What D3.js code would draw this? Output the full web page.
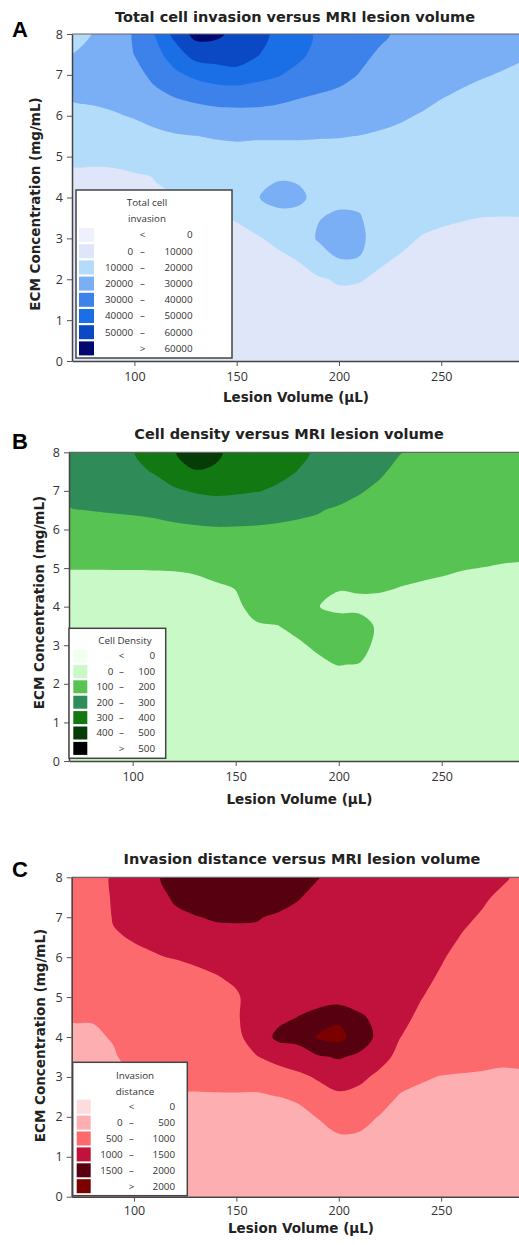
<!DOCTYPE html>
<html>
<head>
<meta charset="utf-8">
<script src="https://cdn.jsdelivr.net/npm/d3@7"></script>
<style>
  body { margin: 0; background: #fff; }
  svg { display: block; }
</style>
</head>
<body>
<svg id="fig" width="519" height="1245"></svg>
<script>
// sample grid
var lesionVolume = [70, 80, 90, 100, 110, 120, 130, 140, 150, 160, 170, 180, 190, 200, 210, 220, 230, 240, 250, 260, 270, 280, 290];
var ecmConcentration = [8, 7.5, 7, 6.5, 6, 5.5, 5, 4.5, 4, 3.5, 3, 2.5, 2, 1.5, 1, 0.5, 0];
var volumeTicks = [100, 150, 200, 250];
var ecmTicks = [0, 1, 2, 3, 4, 5, 6, 7, 8];

// A: total cell invasion (thousands); one column per lesion volume, ECM 8 -> 0
var totalInvasionK = [
  [17, 20.2, 22, 21, 17.9, 14.7, 10.4, 9.6, 8.9, 8.2, 7.4, 6.7, 5.9, 5.2, 4.5, 3.7, 3],
  [20.3, 22, 22.5, 21.7, 18.3, 15, 10.4, 9.6, 8.9, 8.2, 7.4, 6.7, 5.9, 5.2, 4.5, 3.7, 3],
  [24, 24, 23.5, 22.5, 19.3, 15.7, 10.5, 9.6, 8.9, 8.2, 7.4, 6.7, 5.9, 5.2, 4.5, 3.7, 3],
  [31, 30.2, 26.9, 23.8, 20.6, 16.9, 13.1, 9.2, 8.8, 8.2, 7.4, 6.7, 5.9, 5.2, 4.5, 3.7, 3],
  [40.4, 36.4, 32.4, 27.9, 22.6, 18.2, 14.4, 10.15, 9.4, 8.5, 7.8, 6.9, 6.2, 5.4, 4.6, 3.8, 3],
  [53.1, 45.4, 37.9, 30.7, 24.7, 19.3, 15.9, 12.6, 9.6, 8.6, 7.8, 7, 6.2, 5.4, 4.6, 3.8, 3],
  [63, 54, 42.1, 32.7, 25.8, 19.9, 16.9, 13.9, 10.9, 9.4, 8.5, 7.5, 6.6, 5.7, 4.8, 3.9, 3],
  [62, 55, 44.7, 34.4, 26.6, 20.5, 17.5, 14.7, 11.9, 9.7, 8.8, 7.8, 6.8, 5.9, 4.9, 4, 3],
  [57, 56.7, 45.5, 34.9, 26.8, 20.8, 17.8, 15.3, 12.8, 10.25, 9.1, 8.1, 7.1, 6, 5, 4, 3],
  [53, 50.8, 43.1, 34.3, 26.9, 20.6, 17.6, 16.5, 19.5, 11.6, 9.67, 8.6, 7.4, 6.3, 5.2, 4.1, 3],
  [48, 44.5, 40.8, 32.9, 26.5, 20.6, 17.6, 19, 23.5, 16.5, 10.8, 9.25, 8, 6.75, 5.5, 4.25, 3],
  [45, 42.6, 36.7, 30.9, 25.9, 20.6, 17.6, 18.5, 22.5, 16.5, 11.9, 10.2, 8.7, 7.3, 5.9, 4.4, 3],
  [38, 36.5, 34, 29.6, 25.1, 20.3, 18.1, 17.2, 16.5, 19.5, 21.5, 13, 9.5, 7.9, 6.3, 4.6, 3],
  [35.5, 34, 32.4, 28.4, 24.4, 20.2, 18.2, 17.4, 17, 22, 25, 19.9, 10.5, 8.8, 6.8, 4.9, 3],
  [33.5, 32, 29.7, 26.6, 23.1, 19.9, 18.5, 17.1, 17, 21, 23.5, 19.5, 10.3, 8.5, 6.7, 4.8, 3],
  [31.5, 29, 26.5, 24, 21.5, 19.4, 18, 16.5, 15.1, 13.6, 12.2, 10.7, 9.2, 7.7, 6.1, 4.6, 3],
  [28.5, 26.5, 24.5, 22.6, 20.6, 18.9, 17.3, 15.8, 14.2, 12.7, 11.1, 9.6, 8.3, 7, 5.6, 4.3, 3],
  [27, 25.2, 23.3, 21.5, 19.7, 18, 16.3, 14.7, 13, 11.3, 9.8, 8.6, 7.5, 6.4, 5.3, 4.1, 3],
  [25.5, 23.8, 22.1, 20.3, 18.7, 17.1, 15.5, 13.8, 12.2, 10.6, 9.3, 8.3, 7.2, 6.2, 5.1, 4.1, 3],
  [24, 22.5, 21, 19.5, 18, 16.4, 14.8, 13.3, 11.7, 10.2, 9.1, 8.1, 7.1, 6, 5, 4, 3],
  [23, 21.6, 20.3, 18.8, 17.4, 15.9, 14.4, 12.9, 11.5, 9.95, 9, 8, 7, 6, 5, 4, 3],
  [22, 21.1, 19.7, 18.3, 16.9, 15.5, 14.1, 12.7, 11.3, 9.9, 8.9, 7.9, 6.9, 5.9, 5, 4, 3],
  [21.5, 20.4, 19.1, 17.8, 16.4, 15.1, 13.8, 12.5, 11.2, 9.8, 8.9, 7.9, 6.9, 5.9, 5, 4, 3]
];
var invasionLevels = [0, 10, 20, 30, 40, 50, 60];
var invasionLabels = ["0", "10000", "20000", "30000", "40000", "50000", "60000"];
var invasionColors = ["#eef0fc", "#dfe6fa", "#b3dcfb", "#7aaef5", "#3d82ea", "#1a6fe6", "#0a48c4", "#010870"];

// B: cell density
var cellDensity = [
  [260, 245, 225, 196.9, 165.6, 134.4, 100.5, 94.5, 88.5, 82.4, 76.4, 70.3, 64.2, 58.2, 52.1, 46, 40],
  [270, 255, 234, 201.3, 168.4, 135.5, 100.5, 94.4, 88.4, 82.3, 76.3, 70.2, 64.2, 58.1, 52.1, 46, 40],
  [282, 265, 240, 205.5, 171, 136.6, 100.6, 94.3, 88.3, 82.3, 76.2, 70.2, 64.1, 58.1, 52.1, 46, 40],
  [295, 280, 245.7, 209.4, 173.2, 136.9, 100.7, 94.1, 88.1, 82.1, 76.1, 70.1, 64.1, 58, 52, 46, 40],
  [348.7, 304.4, 260.2, 215.9, 176.1, 138.8, 100.8, 94.2, 88.2, 82.2, 76.1, 70.1, 64.1, 58.1, 52, 46, 40],
  [395, 342.2, 288.4, 230.2, 181.8, 143.9, 101, 94.9, 88.8, 82.7, 76.6, 70.5, 64.4, 58.3, 52.2, 46.1, 40],
  [440, 395, 306.7, 242.3, 187.4, 150.4, 102, 96, 89.8, 83.6, 77.3, 71.1, 64.9, 58.7, 52.4, 46.2, 40],
  [415, 390, 317, 252, 191.7, 157, 110, 96, 90.5, 84.9, 78.5, 72, 65.6, 59.2, 52.8, 46.4, 40],
  [375, 343, 311, 254.2, 190, 163.9, 134.3, 101, 94.3, 87.5, 80.7, 73.9, 67.1, 60.4, 53.6, 46.8, 40],
  [345, 324, 303.3, 245.5, 188, 173.7, 153.5, 133.2, 109.7, 97.1, 88.9, 80.8, 72.6, 64.5, 56.3, 48.2, 40],
  [330, 320, 290, 231.6, 185, 174.5, 156.4, 138.2, 120, 99, 92.2, 83.5, 74.8, 66.1, 57.4, 48.7, 40],
  [315, 299, 258.3, 216.7, 182, 173.8, 157.4, 141, 124.6, 108.2, 95.4, 86.2, 76.9, 67.7, 58.5, 49.2, 40],
  [290, 261, 232, 203, 187.7, 174, 160.3, 130, 102, 119, 105.5, 93.6, 82.9, 72.1, 61.4, 50.7, 40],
  [270, 245, 220, 193.3, 171.1, 148.9, 126.7, 105, 80, 140, 135, 101.5, 76.7, 67, 58, 49, 40],
  [245, 225, 203.9, 184.4, 165, 145.5, 126.1, 110, 80, 135, 125, 98, 80, 70, 60, 50, 40],
  [222, 206.8, 189.7, 172.6, 155.5, 138.3, 121.2, 106, 85, 84, 79, 74, 67, 60, 54, 47, 40],
  [201.5, 186.1, 171.5, 157, 143.2, 128.6, 114, 99.4, 89, 84, 79, 73, 67, 60, 54, 47, 40],
  [188, 174.7, 161.5, 148.4, 135.2, 122.1, 108.9, 95.8, 91, 86, 80, 74, 68, 61, 54, 47, 40],
  [180, 167.5, 155.1, 142.7, 130.3, 117.9, 105.5, 93.1, 89, 84, 79, 73, 67, 60, 54, 47, 40],
  [172, 160.4, 148.6, 136.9, 125.1, 113.4, 101.6, 90, 86, 82, 77, 72, 66, 60, 53, 47, 40],
  [165, 154.1, 143.2, 132.3, 121.4, 110.5, 99.6, 92, 87, 82, 77, 72, 66, 60, 53, 47, 40],
  [160, 149.6, 139.2, 128.7, 118.3, 107.9, 97.5, 91, 86, 82, 77, 72, 66, 60, 53, 47, 40],
  [155, 145.2, 135.4, 125.5, 115.7, 105.9, 96.1, 90, 86, 82, 77, 72, 66, 60, 53, 47, 40]
];
var densityLevels = [0, 100, 200, 300, 400, 500];
var densityLabels = ["0", "100", "200", "300", "400", "500"];
var densityColors = ["#f0fff0", "#c9f9c7", "#57c352", "#2f8b58", "#127812", "#063c08", "#000000"];

// C: invasion distance
var invasionDistance = [
  [850, 801, 753, 705, 656, 608, 559, 511, 473, 439, 405, 371, 337, 302, 268, 234, 200],
  [900, 880, 850, 790, 720, 650, 580, 515, 470, 436, 403, 369, 336, 302, 268, 234, 200],
  [1030, 1025, 1015, 980, 890, 800, 710, 620, 515, 480, 430, 390, 350, 310, 270, 235, 200],
  [1150, 1110, 1065, 1015, 960, 880, 800, 720, 640, 570, 495, 440, 390, 340, 290, 245, 200],
  [1420, 1300, 1190, 1080, 975, 890, 805, 725, 650, 590, 525, 470, 420, 370, 315, 260, 200],
  [1700, 1574, 1389, 1204, 1020, 820, 750, 690, 635, 585, 535, 485, 430, 375, 320, 260, 200],
  [1900, 1700, 1480, 1285, 1087, 889, 790, 710, 640, 590, 540, 485, 430, 375, 320, 260, 200],
  [1950, 1750, 1546, 1355, 1164, 973, 860, 760, 680, 610, 550, 485, 430, 375, 320, 260, 200],
  [1920, 1720, 1545, 1394, 1242, 1091, 940, 960, 940, 780, 640, 460, 410, 360, 310, 255, 200],
  [1850, 1700, 1520, 1430, 1360, 1300, 1250, 1200, 1130, 990, 700, 440, 400, 355, 305, 255, 200],
  [1800, 1640, 1460, 1390, 1340, 1300, 1290, 1350, 1620, 1080, 880, 495, 410, 360, 310, 255, 200],
  [1700, 1520, 1420, 1360, 1320, 1290, 1320, 1505, 1650, 1275, 900, 530, 440, 380, 320, 260, 200],
  [1510, 1420, 1350, 1300, 1270, 1260, 1330, 1640, 2060, 1450, 1050, 800, 510, 420, 340, 270, 200],
  [1400, 1370, 1340, 1310, 1280, 1260, 1250, 1900, 2150, 1540, 1200, 920, 720, 460, 380, 290, 200],
  [1300, 1280, 1260, 1240, 1220, 1210, 1240, 1580, 1750, 1420, 1100, 860, 650, 450, 370, 285, 200],
  [1200, 1190, 1180, 1170, 1160, 1160, 1200, 1350, 1380, 1150, 900, 690, 480, 400, 340, 270, 200],
  [1150, 1140, 1130, 1120, 1110, 1100, 1090, 1060, 1005, 880, 680, 460, 400, 350, 300, 250, 200],
  [1120, 1110, 1095, 1075, 1055, 1035, 1010, 960, 860, 720, 530, 440, 380, 330, 290, 245, 200],
  [1090, 1075, 1055, 1035, 1012, 985, 930, 860, 760, 640, 490, 420, 370, 320, 280, 240, 200],
  [1060, 1040, 1020, 995, 960, 910, 850, 770, 680, 590, 480, 410, 360, 315, 275, 240, 200],
  [1040, 1015, 990, 950, 900, 840, 780, 710, 640, 570, 470, 405, 355, 310, 275, 240, 200],
  [1015, 980, 940, 890, 840, 780, 720, 660, 600, 540, 465, 400, 350, 310, 270, 235, 200],
  [971, 940, 900, 855, 805, 750, 695, 640, 585, 530, 475, 400, 350, 305, 270, 235, 200]
];
var distanceLevels = [0, 500, 1000, 1500, 2000];
var distanceLabels = ["0", "500", "1000", "1500", "2000"];
var distanceColors = ["#fddcde", "#fcaeb0", "#fd6a6e", "#c0123d", "#560010", "#7b0000"];

var panels = [
  { letter: "A", title: "Total cell invasion versus MRI lesion volume",
    grid: totalInvasionK, levels: invasionLevels, labels: invasionLabels, colors: invasionColors,
    legendTitle: ["Total cell", "invasion"],
    left: 72, right: 519, top: 34, bottom: 361, xDomain: [69.5, 288], tickPad: 6,
    titleX: 295, titleY: 21.5, letterY: 37, xLabX: 296, xLabY: 402, yLabX: 40, yLabY: 204,
    lg: { x: 76, y: 190, w: 156, h: 168, titleX: 147, titleY: [206, 222], row0: 235, step: 16.2,
          sw: 79, swW: 15, swH: 14, numL: 133, dash: 142.5, numR: 192.5 } },
  { letter: "B", title: "Cell density versus MRI lesion volume",
    grid: cellDensity, levels: densityLevels, labels: densityLabels, colors: densityColors,
    legendTitle: ["Cell Density"],
    left: 69, right: 519, top: 452.3, bottom: 761, xDomain: [69.1, 287.5], tickPad: 6,
    titleX: 289, titleY: 439, letterY: 449, xLabX: 299.5, xLabY: 804, yLabX: 43.5, yLabY: 602.5,
    lg: { x: 69, y: 628.3, w: 96.7, h: 130, titleX: 125, titleY: [644], row0: 656, step: 15.4,
          sw: 73.3, swW: 14, swH: 13, numL: 113.3, dash: 121.5, numR: 155 } },
  { letter: "C", title: "Invasion distance versus MRI lesion volume",
    grid: invasionDistance, levels: distanceLevels, labels: distanceLabels, colors: distanceColors,
    legendTitle: ["Invasion", "distance"],
    left: 71.7, right: 519, top: 877.3, bottom: 1196.7, xDomain: [69.6, 288], tickPad: 4.5,
    titleX: 302, titleY: 864, letterY: 877, xLabX: 301, xLabY: 1233, yLabX: 45, yLabY: 1035.5,
    lg: { x: 72.7, y: 1062.3, w: 114.6, h: 133.4, titleX: 135, titleY: [1079, 1095], row0: 1106.7, step: 15.9,
          sw: 76.7, swW: 14, swH: 14, numL: 122.7, dash: 131.5, numR: 175 } }
];

var svg = d3.select("#fig");
var nx = lesionVolume.length,
    ny = ecmConcentration.length;

// grid index -> data units (values sit at index + 0.5 in d3.contours space)
var gx = d3.scaleLinear().domain([0, nx - 1]).range([lesionVolume[0], lesionVolume[nx - 1]]);
var gy = d3.scaleLinear().domain([0, ny - 1]).range([ecmConcentration[0], ecmConcentration[ny - 1]]);

function drawPanel(p) {
  var x = d3.scaleLinear().domain(p.xDomain).range([p.left, p.right]);
  var y = d3.scaleLinear().domain([0, 8]).range([p.bottom, p.top]);

  var values = new Array(nx * ny);
  p.grid.forEach(function(col, i) {
    col.forEach(function(v, j) { values[j * nx + i] = v; });
  });

  var bands = d3.contours().size([nx, ny]).thresholds(p.levels)(values);

  var line = d3.line().curve(d3.curveCatmullRomClosed.alpha(0.5));
  function ringPath(ring) {
    var pts = ring.slice(0, ring.length - 1).map(function(pt) {
      return [x(gx(pt[0] - 0.5)), y(gy(pt[1] - 0.5))];
    });
    return line(pts);
  }

  svg.append("clipPath").attr("id", "clip" + p.letter)
    .append("rect")
      .attr("x", p.left).attr("y", p.top)
      .attr("width", p.right - p.left).attr("height", p.bottom - p.top);

  var plot = svg.append("g").attr("clip-path", "url(#clip" + p.letter + ")");
  plot.append("rect")
    .attr("x", p.left).attr("y", p.top)
    .attr("width", p.right - p.left).attr("height", p.bottom - p.top)
    .attr("fill", p.colors[0]);

  plot.selectAll(".band")
    .data(bands)
    .enter()
    .append("path")
      .attr("class", "band")
      .attr("fill-rule", "evenodd")
      .attr("fill", function(d, i) { return p.colors[i + 1]; })
      .attr("d", function(d) {
        return d.coordinates.map(function(poly) { return poly.map(ringPath).join(""); }).join("");
      });

  // frame + axes
  svg.append("line")
    .attr("x1", p.left).attr("x2", p.right).attr("y1", p.top).attr("y2", p.top)
    .attr("stroke", "#666").attr("stroke-width", 1.2);

  var xAxis = svg.append("g")
    .attr("transform", "translate(0," + p.bottom + ")")
    .call(d3.axisBottom(x).tickValues(volumeTicks).tickSize(5).tickSizeOuter(0).tickPadding(p.tickPad));
  var yAxis = svg.append("g")
    .attr("transform", "translate(" + p.left + ",0)")
    .call(d3.axisLeft(y).tickValues(ecmTicks).tickSize(5).tickSizeOuter(0).tickPadding(4));

  [xAxis, yAxis].forEach(function(ax) {
    ax.attr("font-family", "'Open Sans', sans-serif").attr("font-size", 12.5);
    ax.select(".domain").attr("stroke", "#444").attr("stroke-width", 1.5);
    ax.selectAll(".tick line").attr("stroke", "#555");
    ax.selectAll(".tick text").attr("fill", "#333");
  });

  // titles
  svg.append("text")
    .attr("x", 12).attr("y", p.letterY)
    .attr("font-family", "'Liberation Sans', Arial, sans-serif")
    .attr("font-weight", "bold").attr("font-size", 22)
    .text(p.letter);

  svg.append("text")
    .attr("x", p.titleX).attr("y", p.titleY)
    .attr("text-anchor", "middle")
    .attr("font-family", "'DejaVu Sans', sans-serif")
    .attr("font-weight", "bold").attr("font-size", 14.5)
    .attr("fill", "#222")
    .text(p.title);

  svg.append("text")
    .attr("x", p.xLabX).attr("y", p.xLabY)
    .attr("text-anchor", "middle")
    .attr("font-family", "'DejaVu Sans', sans-serif")
    .attr("font-weight", "bold").attr("font-size", 13.5)
    .attr("fill", "#222")
    .text("Lesion Volume (µL)");

  svg.append("text")
    .attr("transform", "translate(" + p.yLabX + "," + p.yLabY + ") rotate(-90)")
    .attr("text-anchor", "middle")
    .attr("font-family", "'DejaVu Sans', sans-serif")
    .attr("font-weight", "bold").attr("font-size", 13.5)
    .attr("fill", "#222")
    .text("ECM Concentration (mg/mL)");

  drawLegend(p);
}

function drawLegend(p) {
  var lg = p.lg;
  var g = svg.append("g")
    .attr("font-family", "'Open Sans', sans-serif")
    .attr("font-size", 9.8)
    .attr("fill", "#333");

  g.append("rect")
    .attr("x", lg.x).attr("y", lg.y).attr("width", lg.w).attr("height", lg.h)
    .attr("fill", "#fff").attr("stroke", "#444").attr("stroke-width", 1.5);

  p.legendTitle.forEach(function(t, i) {
    g.append("text")
      .attr("x", lg.titleX).attr("y", lg.titleY[i])
      .attr("text-anchor", "middle")
      .text(t);
  });

  var n = p.labels.length;
  var rows = d3.range(n + 1).map(function(k) {
    if (k === 0) return { sym: "<", right: p.labels[0] };
    if (k === n) return { sym: ">", right: p.labels[n - 1] };
    return { left: p.labels[k - 1], sym: "–", right: p.labels[k] };
  });

  var row = g.selectAll(".lrow")
    .data(rows)
    .enter()
    .append("g")
      .attr("class", "lrow")
      .attr("transform", function(d, k) { return "translate(0," + (lg.row0 + k * lg.step) + ")"; });

  row.append("rect")
    .attr("x", lg.sw).attr("y", -lg.swH / 2)
    .attr("width", lg.swW).attr("height", lg.swH)
    .attr("fill", function(d, k) { return p.colors[k]; });

  row.append("text")
    .attr("x", lg.numL).attr("dy", "0.35em")
    .attr("text-anchor", "end")
    .text(function(d) { return d.left || ""; });

  row.append("text")
    .attr("x", lg.dash).attr("dy", "0.35em")
    .attr("text-anchor", "middle")
    .text(function(d) { return d.sym; });

  row.append("text")
    .attr("x", lg.numR).attr("dy", "0.35em")
    .attr("text-anchor", "end")
    .text(function(d) { return d.right; });
}

panels.forEach(drawPanel);
</script>
</body>
</html>
